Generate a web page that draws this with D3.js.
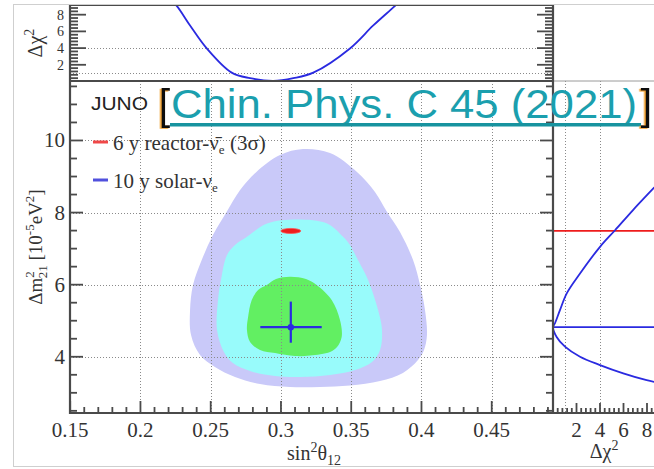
<!DOCTYPE html>
<html><head><meta charset="utf-8">
<script src="https://cdn.jsdelivr.net/npm/d3@7"></script>
<style>
body{margin:0;background:#fff}
svg{display:block}
text{font-family:"Liberation Serif","Times New Roman",serif;fill:#333}
</style>
</head><body><svg id="c" width="654" height="469"></svg>
<script>
// ---------------- data ----------------
const sinTicks = [0.15, 0.2, 0.25, 0.3, 0.35, 0.4, 0.45];
const sinTickLabels = ["0.15", "0.2", "0.25", "0.3", "0.35", "0.4", "0.45"];
const dmTicks = [4, 6, 8, 10];
const dmTickLabels = ["4", "6", "8", "10"];
const chiTicks = [2, 4, 6, 8];
const chiTickLabels = ["2", "4", "6", "8"];
const chiRefLevels = [1, 4];

// 10 y solar 3 sigma region [sin^2 theta12, dm21^2]
const solar3Sigma = [[0.3157,9.761],[0.3349,9.650],[0.3541,9.123],[0.3669,8.569],[0.3755,8.014],[0.3847,7.459],[0.3940,6.682],[0.3990,5.989],[0.4025,5.295],[0.4039,4.602],[0.4018,4.186],[0.3975,3.908],[0.3868,3.548],[0.3705,3.326],[0.3491,3.201],[0.3278,3.160],[0.3064,3.160],[0.2851,3.243],[0.2673,3.437],[0.2530,3.714],[0.2424,4.047],[0.2360,4.602],[0.2353,5.295],[0.2374,5.989],[0.2436,6.682],[0.2516,7.376],[0.2614,8.022],[0.2708,8.616],[0.2827,9.132],[0.2993,9.595]];
// 2 sigma region
const solar2Sigma = [[0.3112,7.811],[0.3328,7.700],[0.3442,7.329],[0.3491,7.098],[0.3548,6.682],[0.3620,6.128],[0.3691,5.295],[0.3719,4.740],[0.3705,4.186],[0.3648,3.853],[0.3527,3.631],[0.3349,3.492],[0.3136,3.437],[0.2958,3.465],[0.2780,3.603],[0.2658,3.825],[0.2594,4.130],[0.2545,4.741],[0.2552,5.573],[0.2573,6.128],[0.2616,6.821],[0.2673,7.098],[0.2758,7.329],[0.2901,7.700]];
// 1 sigma region
const solar1Sigma = [[0.3064,6.219],[0.3178,6.155],[0.3254,5.989],[0.3361,5.573],[0.3420,5.018],[0.3432,4.547],[0.3399,4.269],[0.3349,4.130],[0.3207,4.033],[0.3100,4.019],[0.2958,4.103],[0.2851,4.186],[0.2780,4.408],[0.2758,4.741],[0.2765,5.073],[0.2792,5.573],[0.2837,5.850],[0.2899,5.989],[0.2965,6.155]];

// reactor 3 sigma (tiny ellipse)
const reactorSin = 0.307, reactorDm = 7.49, reactorSinHalf = 0.0071, reactorDmHalf = 0.07;
// solar best fit with errors
const solarSin = 0.307, solarDm = 4.82;
const solarSinRange = [0.2853, 0.3290];
const solarDmRange = [4.39, 5.53];

// top panel: delta chi2 vs sin^2 theta12 (solar)
const topSin = [0.2200, 0.2258, 0.2353, 0.2472, 0.2649, 0.2780, 0.2946, 0.3088, 0.3230, 0.3491, 0.3657, 0.3812, 0.3870];
const topChi = [10.0, 9.06, 6.71, 3.96, 1.06, 0.40, 0.08, 0.40, 1.06, 3.96, 6.71, 9.06, 10.0];

// right panel: delta chi2 vs dm21^2 (solar)
const profDm  = [3.22, 3.35, 3.54, 3.77, 4.00, 4.28, 4.55, 4.82, 4.93, 5.30, 5.76, 6.31, 7.05, 7.51, 8.07, 8.67, 9.00];
const profChi = [9.80, 7.97, 5.98, 4.00, 2.30, 1.02, 0.31, 0.00, 0.17, 0.60, 1.17, 2.30, 4.00, 5.28, 6.81, 8.54, 9.50];
const reactorProfileDm = 7.49;
const solarProfileDm = 4.82;

// ---------------- drawing ----------------
const svg = d3.select("#c");
const x = d3.scaleLinear([0.15, 0.4936], [70.2, 553]);
const y = d3.scaleLinear([2.44, 11.65], [413, 81]);
const yTop = d3.scaleLinear([0, 9.1], [81.5, 5.5]);
const xR = d3.scaleLinear([0, 10], [553, 670.5]);

const axisCol = "#4a4a4a", gridCol = "#8a8a8a";
const blue = "#2a2ae0", red = "#ee1c1c";
const sans = "'Liberation Sans',Arial,sans-serif";

// outer light frame
svg.append("rect").attr("x", 13.5).attr("y", 4.5).attr("width", 700).attr("height", 462)
  .attr("fill", "none").attr("stroke", "#cfcfcf").attr("stroke-width", 1);

const defs = svg.append("defs");
defs.append("clipPath").attr("id", "cm").append("rect").attr("x", 70).attr("y", 81).attr("width", 483).attr("height", 332);
defs.append("clipPath").attr("id", "ct").append("rect").attr("x", 70).attr("y", 5).attr("width", 483).attr("height", 76);
defs.append("clipPath").attr("id", "cr").append("rect").attr("x", 553).attr("y", 81).attr("width", 200).attr("height", 332);
const sh = defs.append("filter").attr("id", "osh").attr("x", "-50%").attr("y", "-20%").attr("width", "200%").attr("height", "140%");
sh.append("feDropShadow").attr("dx", -1.6).attr("dy", 0.8).attr("stdDeviation", 0.3).attr("flood-color", "#f0a030").attr("flood-opacity", 1);

// ---- main panel ----
const gm = svg.append("g").attr("clip-path", "url(#cm)");
const area = d3.line().x(d => x(d[0])).y(d => y(d[1])).curve(d3.curveCatmullRomClosed.alpha(0.5));
gm.append("path").attr("d", area(solar3Sigma)).attr("fill", "#c9c9f9");
gm.append("path").attr("d", area(solar2Sigma)).attr("fill", "#98fbfb");
gm.append("path").attr("d", area(solar1Sigma)).attr("fill", "#62ef62");

// grid
gm.selectAll(".vg").data(sinTicks.slice(1)).join("line")
  .attr("x1", d => Math.round(x(d)) + 0.5).attr("x2", d => Math.round(x(d)) + 0.5)
  .attr("y1", 81).attr("y2", 413).attr("stroke", gridCol).attr("stroke-dasharray", "1,2");
gm.selectAll(".hg").data(dmTicks).join("line")
  .attr("y1", d => Math.round(y(d)) + 0.5).attr("y2", d => Math.round(y(d)) + 0.5)
  .attr("x1", 70).attr("x2", 553).attr("stroke", gridCol).attr("stroke-dasharray", "1,2");

// reactor ellipse
gm.append("ellipse").attr("cx", x(reactorSin)).attr("cy", y(reactorDm))
  .attr("rx", x(reactorSin + reactorSinHalf) - x(reactorSin))
  .attr("ry", y(reactorDm) - y(reactorDm + reactorDmHalf))
  .attr("fill", red).attr("stroke", "#ff5050").attr("stroke-width", 0.8);

// solar best fit cross
gm.append("line").attr("x1", x(solarSinRange[0])).attr("x2", x(solarSinRange[1]))
  .attr("y1", y(solarDm)).attr("y2", y(solarDm)).attr("stroke", blue).attr("stroke-width", 2.2);
gm.append("line").attr("x1", x(solarSin)).attr("x2", x(solarSin))
  .attr("y1", y(solarDmRange[0])).attr("y2", y(solarDmRange[1])).attr("stroke", blue).attr("stroke-width", 2.2);
gm.append("circle").attr("cx", x(solarSin)).attr("cy", y(solarDm)).attr("r", 3.2).attr("fill", blue);

// ---- top panel ----
const gt = svg.append("g").attr("clip-path", "url(#ct)");
gt.selectAll(".tg").data(chiRefLevels).join("line")
  .attr("y1", d => Math.round(yTop(d)) + 0.5).attr("y2", d => Math.round(yTop(d)) + 0.5)
  .attr("x1", 70).attr("x2", 553).attr("stroke", gridCol).attr("stroke-dasharray", "1,2");
const topLine = d3.line().x((d, i) => x(topSin[i])).y((d, i) => yTop(topChi[i])).curve(d3.curveCatmullRom.alpha(0.5));
gt.append("path").attr("d", topLine(topSin)).attr("fill", "none").attr("stroke", blue).attr("stroke-width", 1.8);

// ---- right panel ----
const gr = svg.append("g").attr("clip-path", "url(#cr)");
gr.selectAll(".rg").data(chiRefLevels).join("line")
  .attr("x1", d => Math.round(xR(d)) + 0.5).attr("x2", d => Math.round(xR(d)) + 0.5)
  .attr("y1", 81).attr("y2", 413).attr("stroke", gridCol).attr("stroke-dasharray", "1,2");
gr.append("line").attr("x1", 553).attr("x2", 760).attr("y1", y(reactorProfileDm)).attr("y2", y(reactorProfileDm))
  .attr("stroke", red).attr("stroke-width", 1.8);
gr.append("line").attr("x1", 553).attr("x2", 760).attr("y1", y(solarProfileDm)).attr("y2", y(solarProfileDm))
  .attr("stroke", blue).attr("stroke-width", 1.8);
const profLine = d3.line().x((d, i) => xR(profChi[i])).y((d, i) => y(profDm[i])).curve(d3.curveCatmullRom.alpha(0.5));
gr.append("path").attr("d", profLine(profDm)).attr("fill", "none").attr("stroke", blue).attr("stroke-width", 1.8);

// ---- frames ----
const fr = svg.append("g").attr("stroke", axisCol).attr("fill", "none");
fr.append("line").attr("x1", 70).attr("x2", 553).attr("y1", 5.5).attr("y2", 5.5).attr("stroke-width", 1.2);
fr.append("line").attr("x1", 553).attr("x2", 654).attr("y1", 81).attr("y2", 81).attr("stroke", "#9a9a9a").attr("stroke-width", 1);
fr.append("line").attr("x1", 70).attr("x2", 553).attr("y1", 81).attr("y2", 81).attr("stroke-width", 2);
fr.append("line").attr("x1", 70).attr("x2", 70).attr("y1", 5).attr("y2", 414).attr("stroke-width", 2.2);
fr.append("line").attr("x1", 553).attr("x2", 553).attr("y1", 5).attr("y2", 414).attr("stroke-width", 2.2);
fr.append("line").attr("x1", 69).attr("x2", 660).attr("y1", 413).attr("y2", 413).attr("stroke-width", 2.2);

// ticks helper
function ticks(vals, fn) {
  fr.append("g").selectAll("line").data(vals).join("line").each(function(d) {
    const [x1, y1, x2, y2] = fn(d);
    d3.select(this).attr("x1", x1).attr("y1", y1).attr("x2", x2).attr("y2", y2).attr("stroke-width", 1.8);
  });
}
const sinMinor = d3.range(15, 50).map(i => i / 100).filter(v => !sinTicks.some(t => Math.abs(t - v) < 1e-9));
const dmMinor = d3.range(5, 24).map(i => i / 2).filter(v => v > 2.44 && v < 11.65 && !dmTicks.includes(v));
const chiMinorTop = d3.range(1, 23).map(i => i * 0.4).filter(v => v < 9.1 && !chiTicks.some(t => Math.abs(t - v) < 1e-9));
const chiMinorR = d3.range(1, 25).map(i => i * 0.4).filter(v => !chiTicks.some(t => Math.abs(t - v) < 1e-9));

ticks(sinTicks, d => [x(d), 413, x(d), 401]);
ticks(sinMinor, d => [x(d), 413, x(d), 407]);
ticks(dmTicks, d => [70, y(d), 83, y(d)]);
ticks(dmMinor, d => [70, y(d), 77, y(d)]);
ticks(dmTicks, d => [553, y(d), 540, y(d)]);
ticks(dmMinor, d => [553, y(d), 546, y(d)]);
ticks(chiTicks, d => [70, yTop(d), 86, yTop(d)]);
ticks(chiMinorTop, d => [70, yTop(d), 78, yTop(d)]);
ticks(chiTicks, d => [553, yTop(d), 537, yTop(d)]);
ticks(chiMinorTop, d => [553, yTop(d), 545, yTop(d)]);
ticks(chiTicks, d => [xR(d), 413, xR(d), 403]);
ticks(chiMinorR, d => [xR(d), 413, xR(d), 408]);

// ---- tick labels ----
const lab = svg.append("g").style("font-size", "21px");
lab.selectAll(".xl").data(sinTicks).join("text").attr("x", d => x(d)).attr("y", 437)
  .attr("text-anchor", "middle").text((d, i) => sinTickLabels[i]);
lab.selectAll(".yl").data(dmTicks).join("text").attr("x", 65).attr("y", d => y(d) + 7)
  .attr("text-anchor", "end").text((d, i) => dmTickLabels[i]);
lab.selectAll(".rl").data(chiTicks).join("text").attr("x", d => xR(d)).attr("y", 437)
  .attr("text-anchor", "middle").text((d, i) => chiTickLabels[i]);
svg.append("g").style("font-size", "14px").selectAll("text").data(chiTicks).join("text")
  .attr("x", 64).attr("y", d => yTop(d) + 5).attr("text-anchor", "end").text((d, i) => chiTickLabels[i]);

// ---- axis titles ----
const xt = svg.append("text").attr("x", 341).attr("y", 460).attr("text-anchor", "end").style("font-size", "20px");
xt.append("tspan").text("sin");
xt.append("tspan").attr("dy", -8).style("font-size", "14px").text("2");
xt.append("tspan").attr("dy", 8).text("θ");
xt.append("tspan").attr("dy", 5).style("font-size", "14px").text("12");

const rt = svg.append("text").attr("x", 604).attr("y", 458).attr("text-anchor", "middle").style("font-size", "20px");
rt.append("tspan").text("Δχ");
rt.append("tspan").attr("dy", -8).style("font-size", "14px").text("2");

const tt = svg.append("text").attr("transform", "translate(42,43) rotate(-90)").attr("text-anchor", "middle").style("font-size", "20px");
tt.append("tspan").text("Δχ");
tt.append("tspan").attr("dy", -8).style("font-size", "14px").text("2");

const yt = svg.append("text").attr("transform", "translate(42,247) rotate(-90)").attr("text-anchor", "middle").style("font-size", "19px");
yt.append("tspan").text("Δm");
yt.append("tspan").attr("dy", -8).style("font-size", "13px").text("2");
yt.append("tspan").attr("dx", -7).attr("dy", 13).style("font-size", "13px").text("21");
yt.append("tspan").attr("dy", -5).text(" [10");
yt.append("tspan").attr("dy", -8).style("font-size", "13px").text("-5");
yt.append("tspan").attr("dy", 8).text("eV");
yt.append("tspan").attr("dy", -8).style("font-size", "13px").text("2");
yt.append("tspan").attr("dy", 8).text("]");

// ---- legend ----
const lg = svg.append("g").style("font-size", "21px");
lg.append("line").attr("x1", 93).attr("x2", 108).attr("y1", 142).attr("y2", 142).attr("stroke", "#f04848").attr("stroke-width", 3);
const l1 = lg.append("text").attr("x", 113).attr("y", 150);
l1.append("tspan").text("6 y reactor-");
l1.append("tspan").text("ν\u0304");
l1.append("tspan").attr("dy", 4).style("font-size", "13px").text("e");
l1.append("tspan").attr("dy", -4).text(" (3σ)");
lg.append("line").attr("x1", 93).attr("x2", 108).attr("y1", 180).attr("y2", 180).attr("stroke", "#5050dd").attr("stroke-width", 3);
const l2 = lg.append("text").attr("x", 113).attr("y", 188);
l2.append("tspan").text("10 y solar-ν");
l2.append("tspan").attr("dy", 4).style("font-size", "13px").text("e");

// ---- labels: experiment + citation ----
svg.append("text").attr("x", 91).attr("y", 110).attr("textLength", 57).attr("lengthAdjust", "spacingAndGlyphs")
  .style("font-family", sans).style("font-size", "19px").style("fill", "#222").text("JUNO");
svg.append("text").attr("x", 158.5).attr("y", 119).attr("filter", "url(#osh)")
  .style("font-family", sans).style("font-size", "42px").style("fill", "#111").text("[");
svg.append("text").attr("x", 171).attr("y", 118).attr("textLength", 466).attr("lengthAdjust", "spacingAndGlyphs")
  .style("font-family", sans).style("font-size", "41px").style("fill", "#1b9fae").text("Chin. Phys. C 45 (2021)");
svg.append("rect").attr("x", 170).attr("y", 123).attr("width", 471).attr("height", 3.5).attr("fill", "#17939f");
svg.append("text").attr("x", 640.5).attr("y", 119).attr("filter", "url(#osh)")
  .style("font-family", sans).style("font-size", "42px").style("fill", "#111").text("]");
</script>
</body></html>
